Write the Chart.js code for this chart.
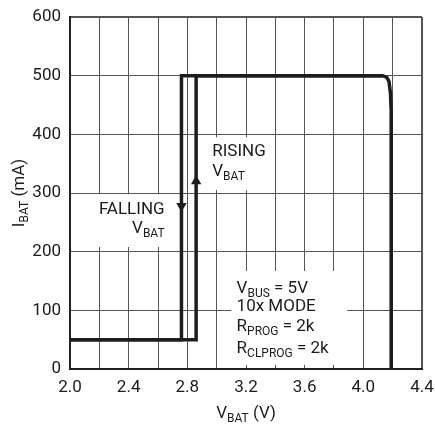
<!DOCTYPE html>
<html lang="en">
<head>
<meta charset="UTF-8" />
<title>IBAT vs VBAT</title>
<script src="https://cdn.jsdelivr.net/npm/chart.js"></script>
<style>
  html, body { margin: 0; padding: 0; background: #fff; }
</style>
</head>
<body>
<canvas id="chart" width="435" height="425"></canvas>
<script>
  // falling VBAT trace (V, mA)
  const fallingV = [2.0, 2.76, 2.76, 4.13, 4.16, 4.175, 4.185, 4.19, 4.19];
  const fallingI = [50, 50, 500, 500, 497, 490, 470, 440, 0];
  // rising VBAT trace
  const risingV = [2.0, 2.86, 2.86, 4.13];
  const risingI = [50, 50, 500, 500];
  // direction arrows on the two vertical steps
  const arrowV = [2.76, 2.86];
  const arrowI = [278, 320];
  const arrowRot = [180, 0];

  const xLabels = ['2.0', '2.4', '2.8', '3.2', '3.6', '4.0', '4.4'];
  const yLabels = ['0', '100', '200', '300', '400', '500', '600'];

  const FAMILY = 'Roboto, "Liberation Sans", sans-serif';
  const MAIN = '17px ' + FAMILY;
  const SUB = '12px ' + FAMILY;
  const INK = '#1c1c1c';

  const pts = (xs, ys) => xs.map((v, i) => ({ x: v, y: ys[i] }));

  // text with subscripts: parts = [[text, isSub], ...]
  function rich(ctx, parts, x, y, align) {
    let w = 0;
    parts.forEach(([t, sub]) => { ctx.font = sub ? SUB : MAIN; w += ctx.measureText(t).width; });
    let cx = align === 'right' ? x - w : align === 'center' ? x - w / 2 : x;
    parts.forEach(([t, sub]) => {
      ctx.font = sub ? SUB : MAIN;
      ctx.fillText(t, cx, sub ? y + 4 : y);
      cx += ctx.measureText(t).width;
    });
  }

  const notes = {
    id: 'notes',
    beforeDatasetsDraw(chart) {
      const { ctx, scales: { x, y } } = chart;
      const px = v => x.getPixelForValue(v);
      const py = v => y.getPixelForValue(v);
      ctx.save();

      // white patches behind the labels
      ctx.fillStyle = '#fff';
      [[2.17, 2.71, 208, 298], [2.92, 3.33, 305, 395], [3.10, 3.89, 7, 167]].forEach(b => {
        ctx.fillRect(px(b[0]), py(b[3]), px(b[1]) - px(b[0]), py(b[2]) - py(b[3]));
      });

      ctx.fillStyle = INK;
      ctx.textBaseline = 'alphabetic';
      ctx.textAlign = 'left';

      rich(ctx, [['RISING']], px(2.97), py(363), 'left');
      rich(ctx, [['V'], ['BAT', true]], px(2.97), py(329), 'left');
      rich(ctx, [['FALLING']], px(2.645), py(265), 'right');
      rich(ctx, [['V'], ['BAT', true]], px(2.645), py(231), 'right');

      const ax = px(3.136);
      rich(ctx, [['V'], ['BUS', true], [' = 5V']], ax, py(130), 'left');
      rich(ctx, [['10x MODE']], ax, py(99), 'left');
      rich(ctx, [['R'], ['PROG', true], [' = 2k']], ax, py(65), 'left');
      rich(ctx, [['R'], ['CLPROG', true], [' = 2k']], ax, py(28), 'left');

      // axis titles
      const area = chart.chartArea;
      rich(ctx, [['V'], ['BAT', true], [' (V)']], (area.left + area.right) / 2, 418, 'center');
      ctx.translate(24, (area.top + area.bottom) / 2);
      ctx.rotate(-Math.PI / 2);
      rich(ctx, [['I'], ['BAT', true], [' (mA)']], 0, 0, 'center');

      ctx.restore();
    }
  };

  new Chart(document.getElementById('chart'), {
    type: 'scatter',
    data: {
      datasets: [
        {
          data: pts(arrowV, arrowI),
          pointStyle: 'triangle',
          pointRadius: 6,
          rotation: c => arrowRot[c.dataIndex],
          backgroundColor: INK,
          borderWidth: 0
        },
        {
          data: pts(fallingV, fallingI),
          showLine: true,
          borderColor: INK,
          borderWidth: 3.5,
          pointRadius: 0,
          tension: 0
        },
        {
          data: pts(risingV, risingI),
          showLine: true,
          borderColor: INK,
          borderWidth: 3.5,
          pointRadius: 0,
          tension: 0
        }
      ]
    },
    options: {
      responsive: false,
      animation: false,
      layout: { padding: { left: 0, right: 13, top: 17, bottom: 0 } },
      plugins: { legend: { display: false }, tooltip: { enabled: false } },
      scales: {
        x: {
          type: 'linear',
          min: 2.0,
          max: 4.4,
          afterFit: s => { s.height = 56; s.paddingRight = 0; s.paddingLeft = 0; },
          border: { color: '#222', width: 2 },
          grid: {
            color: '#555',
            lineWidth: c => (c.index === 12 ? 2 : 1),
            drawTicks: false
          },
          ticks: {
            stepSize: 0.2,
            autoSkip: false,
            maxRotation: 0,
            padding: 9,
            color: INK,
            font: { family: FAMILY, size: 17 },
            callback: v => {
              const s = Number(v).toFixed(1);
              return xLabels.includes(s) ? s : '';
            }
          }
        },
        y: {
          min: 0,
          max: 600,
          afterFit: s => { s.width = 70; s.paddingTop = 0; s.paddingBottom = 0; },
          border: { color: '#222', width: 2 },
          grid: {
            color: '#555',
            lineWidth: c => (c.index === 6 ? 2 : 1),
            drawTicks: false
          },
          ticks: {
            stepSize: 100,
            padding: 9,
            color: INK,
            font: { family: FAMILY, size: 17 },
            callback: v => (yLabels.includes(String(v)) ? String(v) : '')
          }
        }
      }
    },
    plugins: [notes]
  });
</script>
</body>
</html>
